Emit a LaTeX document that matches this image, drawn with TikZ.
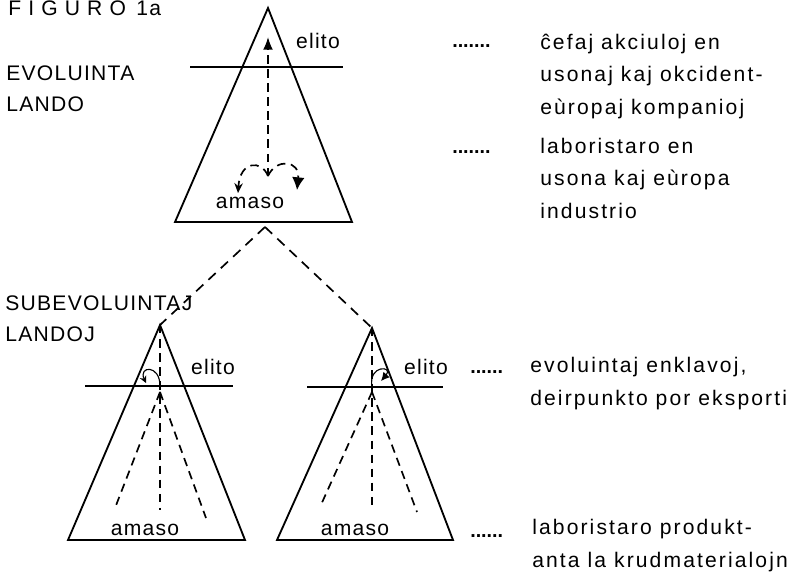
\documentclass[tikz,border=0pt]{standalone}
\usepackage{fontspec}
\setmainfont{Liberation Sans}
\newfontfamily\spacedfont{Liberation Sans}[LetterSpace=10]
\newfontfamily\capsfont{Liberation Sans}[LetterSpace=6]
\usetikzlibrary{arrows.meta}

\tikzset{
  txt/.style={anchor=base west, inner sep=0pt, align=left,
    font=\spacedfont\fontsize{15}{23}\selectfont},
  caps/.style={anchor=base west, inner sep=0pt, align=left,
    font=\capsfont\fontsize{15}{22}\selectfont},
  lbl/.style={inner sep=0pt, font=\capsfont\fontsize{15}{18}\selectfont},
  leader/.style={anchor=base west, inner sep=0pt, font=\bfseries\fontsize{14}{16}\selectfont},
  land/.style={black, line width=1.3pt},
  conn/.style={black, line width=1.2pt, dash pattern=on 7pt off 5pt},
  flow/.style={black, line width=1.2pt, dash pattern=on 6pt off 4pt},
}

\begin{document}
\begin{tikzpicture}[x=0.025cm, y=-0.025cm]
    \useasboundingbox (0,0) rectangle (800,573);

    \node [caps] (fig)  at (8,15)   {F I G U R O\enspace 1a};
    \node [caps] (evo)  at (6,111)  {EVOLUINTA\\LANDO};
    \node [caps] (sub)  at (5,341)  {SUBEVOLUINTAJ\\LANDOJ};

    % evoluinta lando
    \coordinate (tA) at (268,8);
    \coordinate (tL) at (175,222);
    \coordinate (tR) at (352,222);
    \coordinate (tB) at (265,227);
    \draw [land] (tA) -- (tL) -- (tR) -- cycle;
    \draw [land] (190,67) -- (343,67);
    \node [lbl] (tElito) at (318,41)  {elito};
    \node [lbl] (tAmaso) at (250,203) {amaso};
    \coordinate (tMid) at (268,176);
    \draw [flow, -{Latex[length=9pt,width=7pt]}] (tMid) -- (268,37);
    \draw [flow, -{Stealth[length=7pt,width=6pt]}] (tMid) .. controls (262,160) and (240,160) .. (238,193);
    \draw [flow, -{Latex[length=9pt,width=9pt]}] (tMid) .. controls (276,158) and (300,160) .. (297,190);

    % subevoluintaj landoj
    \coordinate (lA) at (160,325);
    \coordinate (lL) at (68,540);
    \coordinate (lR) at (245,540);
    \coordinate (rA) at (372,328);
    \coordinate (rL) at (277,540);
    \coordinate (rR) at (453,540);
    \draw [conn] (tB) -- (lA);
    \draw [conn] (tB) -- (rA);

    \draw [land] (lA) -- (lL) -- (lR) -- cycle;
    \draw [land] (85,386) -- (233,386);
    \node [lbl] (lElito) at (213,367) {elito};
    \node [lbl] (lAmaso) at (145,530) {amaso};
    \draw [flow] (lA) -- (160,510);
    \draw [flow] (160,392) -- (115,508);
    \draw [flow] (160,392) -- (206,518);
    \draw [thick, -{Stealth[length=5pt,width=5pt]}] (160,386) .. controls (160,364) and (138,366) .. (146,383);

    \draw [land] (rA) -- (rL) -- (rR) -- cycle;
    \draw [land] (307,387) -- (443,387);
    \node [lbl] (rElito) at (426,367) {elito};
    \node [lbl] (rAmaso) at (355,530) {amaso};
    \draw [flow] (rA) -- (372,510);
    \draw [flow] (372,392) -- (320,507);
    \draw [flow] (372,392) -- (417,512);
    \draw [thick, -{Latex[length=6pt,width=6pt]}] (372,387) .. controls (368,364) and (394,366) .. (381,381);

    % klarigoj
    \node [leader] (d1) at (452,47)  {.......};
    \node [txt]    (k1) at (540,114) {ĉefaj akciuloj en\\usonaj kaj okcident-\\eùropaj kompanioj};
    \node [leader] (d2) at (452,153) {.......};
    \node [txt]    (k2) at (540,218) {laboristaro en\\usona kaj eùropa\\industrio};
    \node [leader] (d3) at (470,373) {......};
    \node [txt]    (k3) at (530,405) {evoluintaj enklavoj,\\deirpunkto por eksporti};
    \node [leader] (d4) at (470,537) {......};
    \node [txt]    (k4) at (532,567) {laboristaro produkt-\\anta la krudmaterialojn};
\end{tikzpicture}
\end{document}
